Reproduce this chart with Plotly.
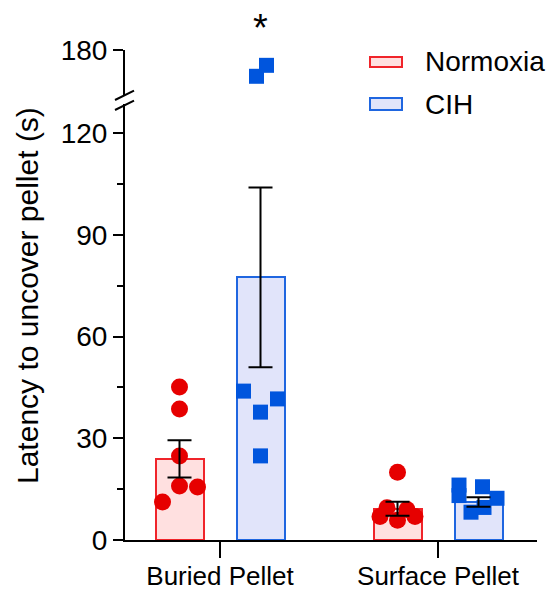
import plotly.graph_objects as go

# ---- data -------------------------------------------------------------
categories = ["Buried Pellet", "Surface Pellet"]
groups = ["Normoxia", "CIH"]

# group means and SEM per category
normoxia_mean = [23.9, 9.2]
normoxia_sem = [5.5, 2.05]
cih_mean = [77.4, 11.2]
cih_sem = [26.5, 1.4]

# individual animals
normoxia_buried = [45.1, 38.6, 24.8, 15.9, 15.6, 11.2]
normoxia_surface = [20.0, 9.5, 9.0, 6.9, 6.9, 5.8]
cih_buried = [43.9, 41.6, 37.7, 24.8, 156.0, 166.0]
cih_surface = [16.2, 15.7, 13.1, 12.3, 8.2, 9.6]

# ---- styling / layout constants --------------------------------------
W, H = 546, 592
PX_L, PX_R, PX_T, PX_B = 125, 537, 50, 540
PX_LOW_TOP = 104      # top of the lower (0-128) segment
PX_UP_BOT = 96        # bottom of the upper (138-180) segment
LOW_MAX = (PX_B - PX_LOW_TOP) / ((PX_B - 133) / 120)
UP_RANGE = [138, 180]

CAT_PX = 218.0        # pixels per category unit
X_RANGE = [-(220 - PX_L) / CAT_PX, 1 + (PX_R - 438) / CAT_PX]
GROUP_OFF = 40.5 / CAT_PX
BAR_W = 48 / CAT_PX

# horizontal spread of the dots (in pixels) so they do not overlap
jit_norm_buried = [0, 0, 0, 0, 18, -17]
jit_norm_surface = [0, -10.5, 9.5, -17.5, 17.5, 0]
jit_cih_buried = [-17, 17, 0, 0, -4, 6]
jit_cih_surface = [-19.5, 4, -19.5, 18.5, -7.5, 5.5]

RED_FILL, RED_LINE, RED_DOT = "#FFE0E0", "#F0242A", "#E60000"
BLUE_FILL, BLUE_LINE, BLUE_DOT = "#E1E4FA", "#1F66E0", "#0055DD"
FONT = "Liberation Sans, Arial, sans-serif"


def px_x(p):
    return (p - PX_L) / (PX_R - PX_L)


def px_y(p):
    return (PX_B - p) / (PX_B - PX_T)


fig = go.Figure()

cat_idx = list(range(len(categories)))

# bars
for name, means, off, fill, line in [
    ("Normoxia", normoxia_mean, -GROUP_OFF, RED_FILL, RED_LINE),
    ("CIH", cih_mean, GROUP_OFF, BLUE_FILL, BLUE_LINE),
]:
    fig.add_trace(go.Bar(
        x=[i + off for i in cat_idx], y=means, width=BAR_W, name=name,
        marker=dict(color=fill, line=dict(color=line, width=2)),
        showlegend=False, xaxis="x", yaxis="y",
    ))

# individual points; values above the lower segment go on the upper axis
point_sets = [
    (normoxia_buried, jit_norm_buried, 0, -GROUP_OFF, "circle", RED_DOT, 17),
    (normoxia_surface, jit_norm_surface, 1, -GROUP_OFF, "circle", RED_DOT, 17),
    (cih_buried, jit_cih_buried, 0, GROUP_OFF, "square", BLUE_DOT, 15),
    (cih_surface, jit_cih_surface, 1, GROUP_OFF, "square", BLUE_DOT, 15),
]
for vals, jit, ci, off, sym, col, size in point_sets:
    for axis, keep in [("y", lambda v: v <= LOW_MAX), ("y2", lambda v: v > LOW_MAX)]:
        xs = [ci + off + j / CAT_PX for v, j in zip(vals, jit) if keep(v)]
        ys = [v for v in vals if keep(v)]
        if not ys:
            continue
        fig.add_trace(go.Scatter(
            x=xs, y=ys, mode="markers", yaxis=axis, xaxis="x",
            marker=dict(symbol=sym, color=col, size=size, line=dict(width=0)),
            showlegend=False, cliponaxis=False,
        ))

# SEM error bars drawn above the points
for means, sems, off in [(normoxia_mean, normoxia_sem, -GROUP_OFF),
                         (cih_mean, cih_sem, GROUP_OFF)]:
    fig.add_trace(go.Scatter(
        x=[i + off for i in cat_idx], y=means, mode="markers",
        marker=dict(size=1, color="rgba(0,0,0,0)"),
        error_y=dict(type="data", array=sems, visible=True,
                     color="black", thickness=2, width=12),
        showlegend=False, xaxis="x", yaxis="y",
    ))

axis_common = dict(showline=True, linecolor="black", linewidth=2,
                   ticks="outside", tickcolor="black", tickwidth=2,
                   showgrid=False, zeroline=False, automargin=False,
                   tickfont=dict(family=FONT, size=28, color="black"))

fig.update_layout(
    width=W, height=H,
    margin=dict(l=PX_L, r=W - PX_R, t=PX_T, b=H - PX_B),
    plot_bgcolor="white", paper_bgcolor="white",
    showlegend=False,
    bargap=0,
    xaxis=dict(
        range=X_RANGE, tickvals=cat_idx, ticktext=categories,
        showline=True, linecolor="black", linewidth=2,
        ticks="outside", ticklen=16, tickcolor="black", tickwidth=2,
        showgrid=False, zeroline=False, anchor="y", automargin=False,
        ticklabelstandoff=-4,
        tickfont=dict(family=FONT, size=26, color="black"),
    ),
    yaxis=dict(
        domain=[0, px_y(PX_LOW_TOP)], range=[0, LOW_MAX],
        tickvals=[0, 30, 60, 90, 120], ticklen=10, anchor="x",
        minor=dict(dtick=15, ticks="outside", ticklen=6,
                   tickcolor="black", tickwidth=2, showgrid=False),
        **axis_common,
    ),
    yaxis2=dict(
        domain=[px_y(PX_UP_BOT), 1], range=UP_RANGE,
        tickvals=[180], ticklen=10, anchor="x",
        **axis_common,
    ),
)

shapes = []
# axis break marks
for y0, y1 in [(100, 90.7), (110, 100.7)]:
    shapes.append(dict(type="line", xref="paper", yref="paper",
                       x0=px_x(115), x1=px_x(134), y0=px_y(y0), y1=px_y(y1),
                       line=dict(color="black", width=2)))
# legend swatches
for (top, bot), fill, line in [((57, 67), RED_FILL, RED_LINE),
                               ((98, 110), BLUE_FILL, BLUE_LINE)]:
    shapes.append(dict(type="rect", xref="paper", yref="paper",
                       x0=px_x(370), x1=px_x(402), y0=px_y(bot), y1=px_y(top),
                       fillcolor=fill, line=dict(color=line, width=2)))
fig.update_layout(shapes=shapes)

annotations = [
    dict(text="Latency to uncover pellet (s)", textangle=-90,
         xref="paper", yref="paper", x=px_x(27), y=px_y(296),
         showarrow=False, xanchor="center", yanchor="middle",
         font=dict(family=FONT, size=30, color="black")),
    dict(text="*", xref="x", yref="paper", x=0 + GROUP_OFF, y=px_y(28),
         showarrow=False, xanchor="center", yanchor="middle",
         font=dict(family=FONT, size=38, color="black")),
]
for name, yc in [("Normoxia", 62), ("CIH", 104)]:
    annotations.append(dict(text=name, xref="paper", yref="paper",
                            x=px_x(423), y=px_y(yc), showarrow=False,
                            xanchor="left", yanchor="middle",
                            font=dict(family=FONT, size=28, color="black")))
fig.update_layout(annotations=annotations)

fig.write_html("out.html")
